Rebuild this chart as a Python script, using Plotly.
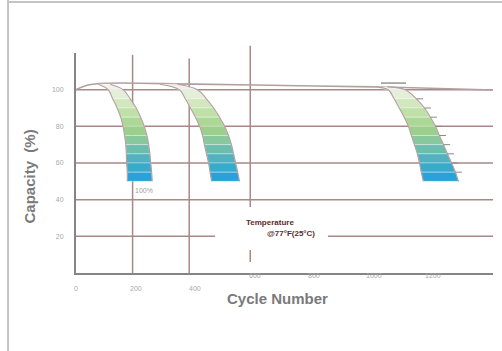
import plotly.graph_objects as go

# ---------------- data ----------------
x_tick_vals = [0, 200, 400, 600, 800, 1000, 1200]
x_tick_text = ["0", "200", "400", "600", "800", "1000", "1200"]
y_tick_vals = [20, 40, 60, 80, 100]
y_tick_text = ["20", "40", "60", "80", "100"]

h_grid = [100, 80, 60, 40]
grid20_value = 20
grid20_gap = [467, 846]
v_lines = [190, 380, 585]
v_line_tops = [119, 117, 124]

plateau_cycles = [0, 40, 100, 400, 800, 1100, 1400]
plateau_cap = [100, 102.5, 103.5, 103.0, 102.0, 101.2, 99.8]

f1_levels = [103, 100, 95, 90, 85, 80, 75, 70, 65, 60, 55, 50]
f1_left = [75, 108, 123, 138, 150, 158, 163, 167, 169, 170, 172, 172]
f1_right = [115, 158, 182, 202, 217, 229, 238, 244, 248, 251, 254, 256]

f2_levels = [103, 100, 95, 90, 85, 80, 75, 70, 65, 60, 55, 50]
f2_left = [282, 347, 367, 384, 401, 415, 425, 431, 438, 445, 450, 455]
f2_right = [340, 408, 438, 462, 482, 499, 512, 522, 529, 536, 543, 549]

f3_levels = [101.5, 100, 95, 90, 85, 80, 75, 70, 65, 60, 55, 50]
f3_left = [990, 1048, 1068, 1085, 1102, 1116, 1126, 1136, 1146, 1153, 1159, 1166]
f3_right = [1045, 1105, 1143, 1170, 1190, 1207, 1220, 1234, 1247, 1261, 1274, 1284]

f3_dash_cycles = [1024, 1108]
f3_dash_cap = [103.6, 103.6]

band_label = "100%"
band_label_cycle = 228
band_label_cap = 45

temp_line1 = "Temperature"
temp_line2 = "@77°F(25°C)"
temp_pos1 = (651, 27.5)
temp_pos2 = (722, 21.5)

# ---------------- styles ----------------
stripe_colors = ["#f0f1ea", "#e4eed8", "#d2e7bf", "#bfe0a8", "#acd895", "#9ccf8e",
                 "#89c79c", "#6dbdae", "#52b3c0", "#3aa9cc", "#2aa2d6"]
grid_color = "rgb(170,136,136)"
curve_color = "rgb(178,160,160)"
FONT = "Liberation Sans, Arial, sans-serif"

fig = go.Figure()

# plateau line
fig.add_trace(go.Scatter(x=plateau_cycles, y=plateau_cap, mode="lines",
                         line=dict(color=curve_color, width=1.6, shape="spline"),
                         hoverinfo="skip", showlegend=False))

families = [(f1_levels, f1_left, f1_right),
            (f2_levels, f2_left, f2_right),
            (f3_levels, f3_left, f3_right)]

for lv, L, R in families:
    for i in range(len(lv) - 1):
        fig.add_trace(go.Scatter(
            x=[L[i], R[i], R[i + 1], L[i + 1], L[i]],
            y=[lv[i], lv[i], lv[i + 1], lv[i + 1], lv[i]],
            mode="lines", fill="toself", fillcolor=stripe_colors[i],
            line=dict(color="rgba(255,255,255,0.55)", width=0.6),
            hoverinfo="skip", showlegend=False))
    for edge in (L, R):
        fig.add_trace(go.Scatter(x=edge, y=lv, mode="lines",
                                 line=dict(color=curve_color, width=1.1, shape="spline"),
                                 hoverinfo="skip", showlegend=False))

# small right-edge ticks of the third band
tx, ty = [], []
for i in range(2, len(f3_levels) - 1):
    tx += [f3_right[i], f3_right[i] + 22, None]
    ty += [f3_levels[i], f3_levels[i], None]
fig.add_trace(go.Scatter(x=tx, y=ty, mode="lines", line=dict(color="#8a8a8a", width=1),
                         hoverinfo="skip", showlegend=False))
fig.add_trace(go.Scatter(x=f3_dash_cycles, y=f3_dash_cap, mode="lines",
                         line=dict(color="#9a9a9a", width=1.6),
                         hoverinfo="skip", showlegend=False))

shapes = []
for v in h_grid:
    shapes.append(dict(type="line", xref="x", yref="y", x0=0, x1=1400, y0=v, y1=v,
                       line=dict(color=grid_color, width=1.5), layer="below"))
shapes.append(dict(type="line", xref="x", yref="y", x0=0, x1=grid20_gap[0],
                   y0=grid20_value, y1=grid20_value, line=dict(color=grid_color, width=1.5), layer="below"))
shapes.append(dict(type="line", xref="x", yref="y", x0=grid20_gap[1], x1=1400,
                   y0=grid20_value, y1=grid20_value, line=dict(color=grid_color, width=1.5), layer="below"))
YMAX = 120
for i, (xv, top) in enumerate(zip(v_lines, v_line_tops)):
    if i < 2:
        shapes.append(dict(type="line", xref="x", yref="paper", x0=xv, x1=xv, y0=0, y1=top / YMAX,
                           line=dict(color=grid_color, width=1.5), layer="below"))
    else:
        shapes.append(dict(type="line", xref="x", yref="paper", x0=xv, x1=xv, y0=36 / YMAX, y1=top / YMAX,
                           line=dict(color=grid_color, width=1.5), layer="below"))
        shapes.append(dict(type="line", xref="x", yref="paper", x0=xv, x1=xv, y0=6 / YMAX, y1=12.5 / YMAX,
                           line=dict(color=grid_color, width=1.5), layer="below"))
# outer frame
shapes.append(dict(type="line", xref="paper", yref="paper", x0=-0.163, x1=-0.163, y0=-0.4, y1=1.25,
                   line=dict(color="#c4c4c4", width=2)))
shapes.append(dict(type="line", xref="paper", yref="paper", x0=-0.163, x1=1.03, y0=1.232, y1=1.232,
                   line=dict(color="#c4c4c4", width=2)))

annotations = []
x_label_shift = [-15, -15, -15, -2, -2, -2, -2]
for v, t, s in zip(x_tick_vals, x_tick_text, x_label_shift):
    annotations.append(dict(x=v, y=0, xref="x", yref="paper", text=t, showarrow=False,
                            yshift=s, xanchor="center", yanchor="middle",
                            font=dict(size=7, color="#a8a8a8", family=FONT)))
annotations.append(dict(x=0.484, y=-0.114, xref="paper", yref="paper", text="<b>Cycle Number</b>",
                        showarrow=False, xanchor="center", yanchor="middle",
                        font=dict(size=15, color="#7a7a7a", family=FONT)))
annotations.append(dict(x=-0.112, y=0.44, xref="paper", yref="paper", text="<b>Capacity  (%)</b>",
                        showarrow=False, textangle=-90, xanchor="center", yanchor="middle",
                        font=dict(size=15, color="#7a7a7a", family=FONT)))
annotations.append(dict(x=temp_pos1[0], y=temp_pos1[1], xref="x", yref="y", text="<b>" + temp_line1 + "</b>",
                        showarrow=False, xanchor="center", yanchor="middle",
                        font=dict(size=8, color="#5b2b2b", family=FONT)))
annotations.append(dict(x=temp_pos2[0], y=temp_pos2[1], xref="x", yref="y", text="<b>" + temp_line2 + "</b>",
                        showarrow=False, xanchor="center", yanchor="middle",
                        font=dict(size=8, color="#5b2b2b", family=FONT)))
annotations.append(dict(x=band_label_cycle, y=band_label_cap, xref="x", yref="y", text=band_label,
                        showarrow=False, xanchor="center", yanchor="middle",
                        font=dict(size=7, color="#a0a0a0", family=FONT)))

fig.update_layout(
    width=502, height=351,
    margin=dict(l=76, r=9, t=53, b=78),
    paper_bgcolor="white", plot_bgcolor="white",
    showlegend=False,
    shapes=shapes, annotations=annotations,
    xaxis=dict(range=[0, 1400], showgrid=False, zeroline=False, showticklabels=False,
               showline=True, linecolor="#858585", linewidth=2),
    yaxis=dict(range=[0, YMAX], showgrid=False, zeroline=False,
               tickvals=y_tick_vals, ticktext=y_tick_text, ticks="",
               ticklabelstandoff=9,
               tickfont=dict(size=7, color="#a8a8a8", family=FONT),
               showline=True, linecolor="#858585", linewidth=2),
)

fig.write_html("out.html", config={"responsive": False, "displayModeBar": False},
               post_script="document.body.style.margin='0';document.body.style.overflow='hidden';")
